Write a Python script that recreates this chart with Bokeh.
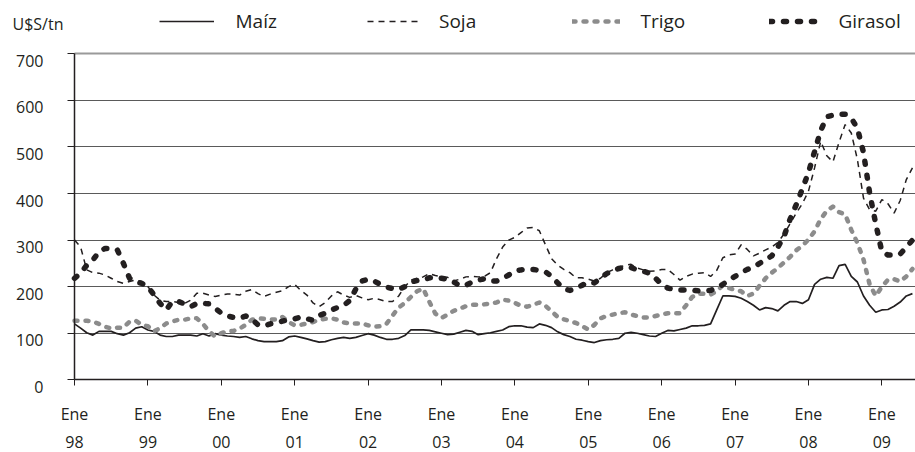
from bokeh.plotting import figure
from bokeh.models import (Range1d, FixedTicker, Grid, Label, LabelSet, Legend,
                          LegendItem, ColumnDataSource)
from bokeh.core.properties import value
from bokeh.embed import file_html
from bokeh.resources import INLINE

# ---- data (U$S/tn, monthly Jan-1998 .. Jun-2009) ----
maiz = [120, 111, 101, 96, 104, 104, 104, 99, 96, 101, 111, 114, 107, 104, 96, 93, 93, 96, 96, 96,
        94, 99, 94, 99, 96, 94, 93, 91,
        93, 88, 84, 82, 82, 82, 84, 92, 94, 91, 88, 84, 81, 82, 86, 89, 91, 89, 91, 95,
        99, 96, 91, 87, 87, 89, 95,
        107, 107, 107, 106, 103, 100, 97, 98, 102, 106, 104, 97, 99, 101, 104, 107, 114, 116,
        116, 113, 112, 120, 117, 112, 103, 97, 93,
        87, 85, 82, 80, 84, 86, 87, 89, 100, 102, 100, 97, 94, 93, 100, 106, 105, 108, 111, 116,
        116, 117, 120, 150, 180, 180, 179,
        175, 168, 160, 150, 155, 153, 148, 160, 168, 168, 164, 172, 205, 216, 220, 218, 245, 248,
        222, 210, 180, 160, 145, 150, 151, 158, 167, 180, 185]

soja = [300, 285, 236, 230, 229, 225, 218, 211, 207, 211, 214, 211, 200, 182, 171, 168, 168, 166, 164, 171,
        186, 186, 182, 179, 182, 184, 184, 182,
        190, 194, 185, 179, 184, 188, 191, 200, 205, 192, 182, 165, 157, 166, 180, 189, 182, 177,
        181, 176, 172, 175, 172, 168, 168, 180,
        200, 214, 218, 221, 228, 224, 221, 220, 212, 216, 221, 222, 221, 222, 230, 260, 285, 300,
        306, 316, 326, 327, 320, 290, 260, 246, 237, 230,
        219, 219, 216, 212, 218, 230, 236, 241, 246, 248, 240, 236, 233, 234, 237, 237, 226, 214,
        222, 227, 229, 230, 222, 235, 262, 268, 270,
        290, 280, 266, 272, 279, 285, 295, 313, 335, 358, 378, 405, 455, 512, 481, 468, 510, 548,
        530, 473, 390, 365, 362, 387, 378, 358, 385, 430, 455]

trigo = [127, 127, 127, 125, 120, 114, 110, 112, 112, 125, 127, 118, 115, 104, 111, 121, 125, 129, 129, 132,
         132, 120, 104, 93, 100, 104, 105, 110,
         118, 129, 132, 131, 130, 129, 135, 124, 117, 118, 121, 124, 129, 131, 132, 129, 123, 121,
         121, 121, 117, 114, 115, 120, 138, 155,
         165, 178, 190, 196, 168, 142, 133, 140, 148, 153, 158, 161, 161, 162, 164, 166, 172, 170,
         165, 159, 157, 161, 166, 159, 147, 135, 130, 126,
         122, 115, 108, 118, 132, 137, 140, 143, 145, 140, 137, 134, 134, 137, 140, 143, 143, 143,
         160, 178, 185, 185, 183, 190, 203, 197, 193,
         190, 180, 185, 202, 218, 230, 240, 252, 264, 278, 288, 301, 319, 345, 363, 372, 360, 355,
         322, 294, 258, 205, 180, 200, 215, 216, 211, 222, 238]

girasol = [218, 229, 246, 257, 275, 282, 282, 279, 250, 218, 211, 207, 200, 182, 164, 150, 168, 168, 163, 157,
           164, 164, 163, 154, 143, 137, 134, 132,
           137, 130, 118, 116, 120, 122, 126, 129, 131, 135, 131, 128, 138, 143, 150, 155, 160, 170,
           195, 212, 216, 212, 205, 199, 196, 194,
           200, 210, 213, 214, 219, 220, 218, 216, 210, 202, 203, 210, 214, 217, 212, 212, 218, 225,
           234, 236, 237, 237, 235, 232, 222, 208, 195, 192,
           196, 203, 210, 208, 218, 228, 235, 239, 242, 241, 236, 233, 229, 218, 205, 197, 194, 193,
           193, 192, 191, 191, 192, 197, 205, 214, 222,
           230, 237, 242, 250, 258, 266, 285, 308, 345, 376, 410, 445, 490, 535, 565, 568, 570, 570,
           562, 540, 488, 401, 335, 275, 268, 268, 270, 285, 300]

months = list(range(len(maiz)))

year_labels = ["98", "99", "00", "01", "02", "03", "04", "05", "06", "07", "08", "09"]
month_label = "Ene"
y_ticks = [0, 100, 200, 300, 400, 500, 600, 700]
y_labels = [str(v) for v in y_ticks]
unit_label = "U$S/tn"
series_names = ["Maíz", "Soja", "Trigo", "Girasol"]

FONT = "Open Sans"
TXT = "#231f20"

year_ticks = [12 * i for i in range(len(year_labels))]

# ---- geometry (the frame covers the whole canvas; axes sit at fixed locations) ----
W, H = 915, 452
AX_X, AX_TOP, AX_BOT = 74.0, 53.3, 379.3          # px of y-axis, 700-line, 0-line
X_END = 137.5
px_m = (W - AX_X) / X_END
px_v = (AX_BOT - AX_TOP) / y_ticks[-1]
x_start = -AX_X / px_m
y_end = y_ticks[-1] + AX_TOP / px_v
y_start = -(H - AX_BOT) / px_v

p = figure(width=W, height=H,
           x_range=Range1d(x_start, X_END), y_range=Range1d(y_start, y_end),
           output_backend="svg", toolbar_location=None,
           min_border_left=0, min_border_right=0, min_border_top=0, min_border_bottom=0)
p.outline_line_color = None
p.background_fill_color = "white"
p.border_fill_color = "white"

# axes
xa = p.xaxis[0]
xa.fixed_location = 0
xa.bounds = (0, X_END)
xa.ticker = FixedTicker(ticks=year_ticks)
xa.major_tick_out = 6
xa.major_tick_in = 0
xa.minor_tick_line_color = None
xa.axis_line_color = TXT
xa.axis_line_width = 1.5
xa.major_tick_line_color = TXT
xa.major_label_text_color = None

ya = p.yaxis[0]
ya.fixed_location = 0
ya.bounds = (0, y_ticks[-1])
ya.ticker = FixedTicker(ticks=y_ticks)
ya.major_tick_out = 7
ya.major_tick_in = 0
ya.minor_tick_line_color = None
ya.axis_line_color = TXT
ya.axis_line_width = 1.5
ya.major_tick_line_color = TXT
ya.major_label_text_color = None

p.xgrid.grid_line_color = None
p.ygrid.ticker = FixedTicker(ticks=y_ticks[1:-1])
p.ygrid.grid_line_color = "#5a5a5a"
p.ygrid.grid_line_width = 1
p.ygrid.cross_bounds = (0, X_END)
top_grid = Grid(dimension=1, ticker=FixedTicker(ticks=[y_ticks[-1]]),
                grid_line_color="#9a9a9a", grid_line_width=2, cross_bounds=(0, X_END))
p.add_layout(top_grid)

# series
src = ColumnDataSource(dict(m=months, maiz=maiz, soja=soja, trigo=trigo, girasol=girasol))
r_maiz = p.line("m", "maiz", source=src, line_color=TXT, line_width=1.7)
r_soja = p.line("m", "soja", source=src, line_color=TXT, line_width=1.5, line_dash="6 5")
r_trigo = p.line("m", "trigo", source=src, line_color="#8c8c8c", line_width=4.5,
                 line_dash="3 8", line_cap="round", line_join="round")
r_gira = p.line("m", "girasol", source=src, line_color=TXT, line_width=5.5,
                line_dash="3 11", line_cap="round", line_join="round")

# legends, one per item (location = bottom-left corner, px from frame bottom-left)
leg_specs = [(r_maiz, 158.5, 55, 22), (r_soja, 367, 51, 21), (r_trigo, 571.5, 48, 21),
             (r_gira, 768.5, 49, 21)]
for name, (r, lx, gw, so) in zip(series_names, leg_specs):
    lg = Legend(items=[LegendItem(label=name, renderers=[r])], location=(lx, H - 34),
                orientation="horizontal", padding=0, margin=0, spacing=0,
                border_line_color=None, background_fill_alpha=0,
                glyph_width=gw, glyph_height=20, label_height=20, label_standoff=so,
                label_text_font=FONT, label_text_font_size="19px", label_text_color=TXT)
    p.add_layout(lg)

# unit label
p.add_layout(Label(x=12, y=H - 23.5, x_units="screen", y_units="screen", text=unit_label,
                   text_font=FONT, text_font_size="16px", text_color=TXT,
                   text_align="left", text_baseline="middle"))

# y tick labels
ysrc = ColumnDataSource(dict(y=y_ticks, t=y_labels, x=[43] * len(y_ticks)))
p.add_layout(LabelSet(x="x", y="y", text="t", source=ysrc, x_units="screen", y_units="data",
                      y_offset=-7, text_align="right", text_baseline="middle",
                      text_font=value(FONT), text_font_size=value("16px"), text_color=TXT))

# x tick labels (two rows)
xsrc = ColumnDataSource(dict(x=year_ticks, m=[month_label] * len(year_ticks), yl=year_labels,
                             y1=[H - 413] * len(year_ticks), y2=[H - 441] * len(year_ticks)))
p.add_layout(LabelSet(x="x", y="y1", text="m", source=xsrc, x_units="data", y_units="screen",
                      text_align="center", text_baseline="middle",
                      text_font=value(FONT), text_font_size=value("16px"), text_color=TXT))
p.add_layout(LabelSet(x="x", y="y2", text="yl", source=xsrc, x_units="data", y_units="screen",
                      text_align="center", text_baseline="middle",
                      text_font=value(FONT), text_font_size=value("16px"), text_color=TXT))

open("out.html", "w").write(file_html(p, INLINE))
